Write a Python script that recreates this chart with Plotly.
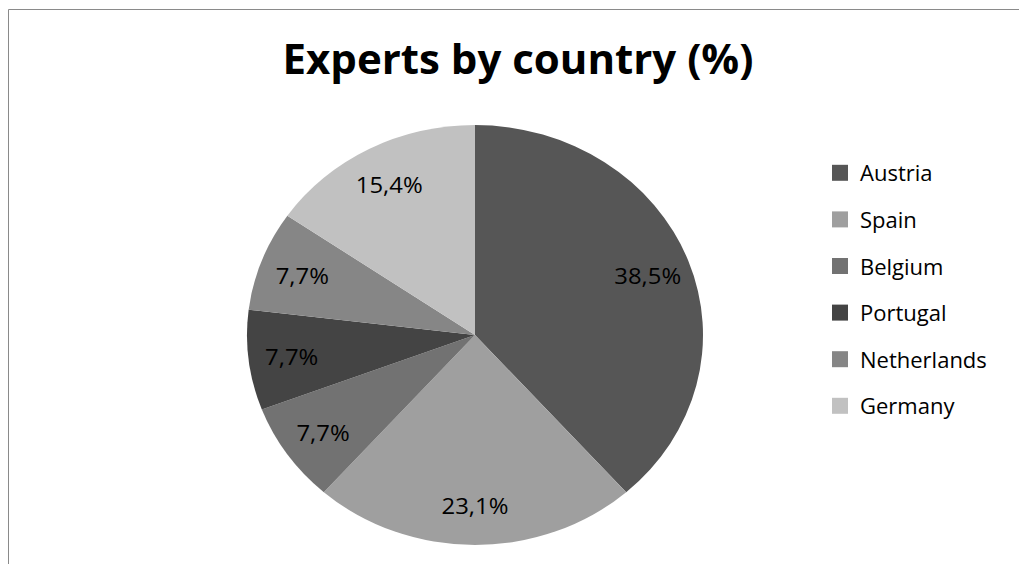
import plotly.graph_objects as go

# Share of experts per country, in percent
countries = ["Austria", "Spain", "Belgium", "Portugal", "Netherlands", "Germany"]
shares = [38.5, 23.1, 7.7, 7.7, 7.7, 15.4]
slice_colors = ["#565656", "#9f9f9f", "#727272", "#444444", "#868686", "#c1c1c1"]

W, H = 1019, 564
FONT = "Open Sans"
pie_domain = dict(x=[245 / W, 705 / W], y=[19 / H, 439 / H])

fig = go.Figure()

# Filled slices
fig.add_trace(go.Pie(
    labels=countries,
    values=shares,
    sort=False,
    direction="clockwise",
    rotation=0,
    marker=dict(colors=slice_colors, line=dict(width=0)),
    textinfo="none",
    showlegend=False,
    domain=pie_domain,
    hovertemplate="%{label}: %{value:.1f}%<extra></extra>",
))

# Transparent ring on top that carries the percentage labels,
# so they sit in the outer part of each slice
fig.add_trace(go.Pie(
    labels=countries,
    values=shares,
    sort=False,
    direction="clockwise",
    rotation=0,
    hole=0.62,
    marker=dict(colors=["rgba(0,0,0,0)"] * len(countries), line=dict(width=0)),
    texttemplate="%{value:.1f}%",
    textposition="inside",
    insidetextorientation="horizontal",
    textfont=dict(family=FONT, size=22, color="black"),
    showlegend=False,
    domain=pie_domain,
    hoverinfo="skip",
))

# Legend entries, one group each so the rows can be spaced apart
for name, col in zip(countries, slice_colors):
    fig.add_trace(go.Scatter(
        x=[None], y=[None], mode="markers", name=name, legendgroup=name,
        marker=dict(symbol="square", size=16, color=col),
        showlegend=True,
    ))

fig.update_layout(
    width=W, height=H,
    margin=dict(l=0, r=0, t=0, b=0),
    paper_bgcolor="white", plot_bgcolor="white",
    separators=",.",
    uniformtext=dict(minsize=22, mode="show"),
    title=dict(
        text="Experts by country (%)",
        font=dict(family=FONT, size=42, color="black", weight="bold"),
        x=518 / W, xanchor="center",
        y=1 - 59 / H, yanchor="middle",
    ),
    xaxis=dict(visible=False), yaxis=dict(visible=False),
    legend=dict(
        x=820 / W, xanchor="left",
        y=1 - 152 / H, yanchor="top",
        font=dict(family=FONT, size=22, color="black"),
        tracegroupgap=15,
        itemsizing="trace",
        bgcolor="rgba(0,0,0,0)",
    ),
    shapes=[
        # chart-area frame: top and left edges
        dict(type="line", xref="paper", yref="paper",
             x0=8.5 / W, x1=1.0, y0=1 - 9.5 / H, y1=1 - 9.5 / H,
             line=dict(color="#8a8a8a", width=1)),
        dict(type="line", xref="paper", yref="paper",
             x0=8.5 / W, x1=8.5 / W, y0=0.0, y1=1 - 9.5 / H,
             line=dict(color="#8a8a8a", width=1)),
    ],
)

# Widen the pie horizontally around its centre
post = """
var gd = document.getElementById('{plot_id}');
var g = gd.querySelector('.pielayer');
if (g) {
  var b = g.getBBox();
  var cx = b.x + b.width / 2;
  g.setAttribute('transform', 'translate(' + cx + ',0) scale(1.0857,1) translate(' + (-cx) + ',0)');
}
"""

fig.write_html("out.html", post_script=post)
